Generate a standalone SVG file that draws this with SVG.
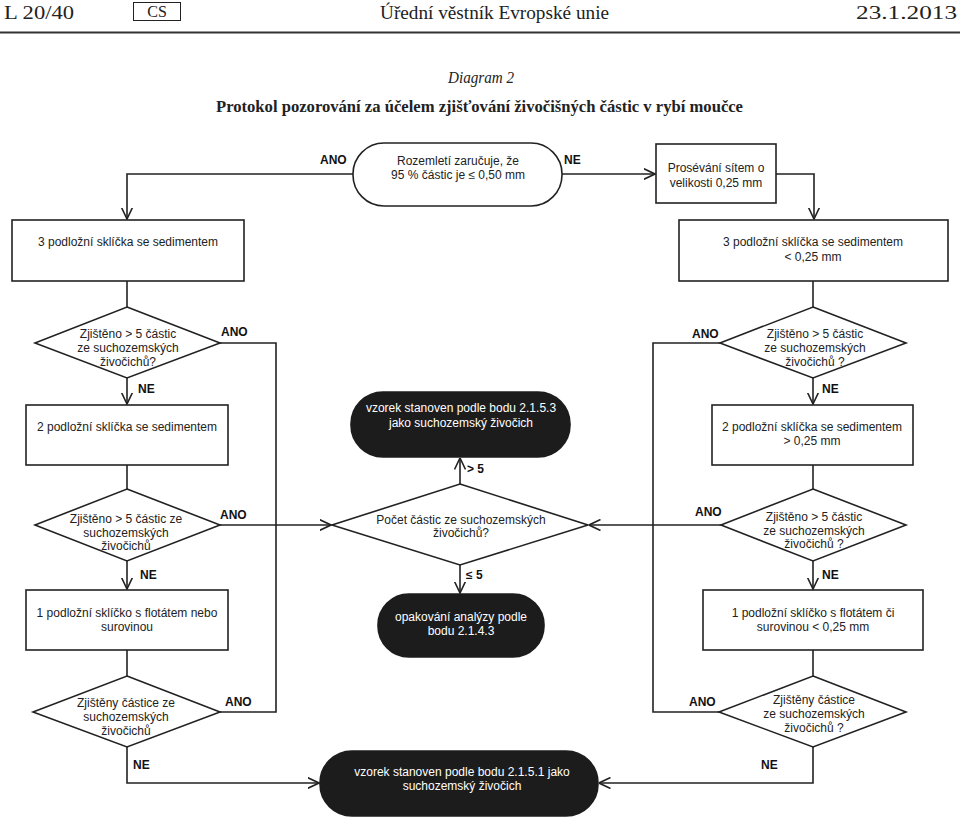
<svg xmlns="http://www.w3.org/2000/svg" width="960" height="817" viewBox="0 0 960 817">
<style>
.hd{font-family:"Liberation Serif","DejaVu Serif",serif;fill:#222}
.t{font-family:"Liberation Sans",Arial,sans-serif;font-size:12px;fill:#222;text-anchor:middle}
.w{font-family:"Liberation Sans",Arial,sans-serif;font-size:12px;fill:#fff;text-anchor:middle}
.l{font-family:"Liberation Sans",Arial,sans-serif;font-size:12px;font-weight:bold;fill:#111}
.s{fill:#fff;stroke:#222;stroke-width:1.6}
.b{fill:#1c1c1c;stroke:#1c1c1c;stroke-width:1.6}
.c{fill:none;stroke:#222;stroke-width:1.6}
</style>
<defs>
<marker id="arr" viewBox="0 0 12 12" refX="11.5" refY="6" markerWidth="12" markerHeight="12" markerUnits="userSpaceOnUse" orient="auto">
<path d="M0,0.5 L11.5,6 L0,11.5" fill="none" stroke="#222" stroke-width="1.6"/>
</marker>
</defs>
<rect width="960" height="817" fill="#fff"/>
<g id="header">
<text class="hd" x="4" y="19" font-size="18" textLength="70" lengthAdjust="spacingAndGlyphs">L 20/40</text>
<rect x="133.5" y="2.5" width="47" height="18" fill="none" stroke="#222" stroke-width="1"/>
<text class="hd" x="157" y="17" font-size="16" text-anchor="middle">CS</text>
<text class="hd" x="380" y="19" font-size="18" textLength="229" lengthAdjust="spacingAndGlyphs">Úřední věstník Evropské unie</text>
<text class="hd" x="856" y="19" font-size="18" textLength="101" lengthAdjust="spacingAndGlyphs">23.1.2013</text>
<rect x="0" y="31.5" width="960" height="2" fill="#333"/>
<text class="hd" x="448" y="83" font-size="16" font-style="italic" textLength="66" lengthAdjust="spacingAndGlyphs">Diagram 2</text>
<text class="hd" x="216" y="112" font-size="17" font-weight="bold" textLength="527" lengthAdjust="spacingAndGlyphs">Protokol pozorování za účelem zjišťování živočišných částic v rybí moučce</text>
</g>
<g id="connectors">
<path class="c" d="M353,174 H127 V219" marker-end="url(#arr)"/>
<path class="c" d="M562,174 H655" marker-end="url(#arr)"/>
<path class="c" d="M776,174 H814 V219" marker-end="url(#arr)"/>
<path class="c" d="M127,281 V307"/>
<path class="c" d="M127,378 V404" marker-end="url(#arr)"/>
<path class="c" d="M220,343 H276 V712 H220"/>
<path class="c" d="M220,525 H331" marker-end="url(#arr)"/>
<path class="c" d="M127,465 V489"/>
<path class="c" d="M127,561 V589" marker-end="url(#arr)"/>
<path class="c" d="M127,650 V676"/>
<path class="c" d="M127,747 V783 H319" marker-end="url(#arr)"/>
<path class="c" d="M460,484 V458" marker-end="url(#arr)"/>
<path class="c" d="M460,565 V593" marker-end="url(#arr)"/>
<path class="c" d="M813,281 V307"/>
<path class="c" d="M813,378 V404" marker-end="url(#arr)"/>
<path class="c" d="M720,343 H653 V712 H719"/>
<path class="c" d="M721,525 H589" marker-end="url(#arr)"/>
<path class="c" d="M813,465 V489"/>
<path class="c" d="M813,561 V589" marker-end="url(#arr)"/>
<path class="c" d="M813,650 V676"/>
<path class="c" d="M813,747 V783 H599" marker-end="url(#arr)"/>
</g>
<g id="labels">
<text class="l" x="320" y="164">ANO</text>
<text class="l" x="564" y="164">NE</text>
<text class="l" x="221" y="336">ANO</text>
<text class="l" x="138" y="393">NE</text>
<text class="l" x="692" y="338">ANO</text>
<text class="l" x="822" y="393">NE</text>
<text class="l" x="220" y="519">ANO</text>
<text class="l" x="140" y="579">NE</text>
<text class="l" x="695" y="516">ANO</text>
<text class="l" x="822" y="579">NE</text>
<text class="l" x="225" y="706">ANO</text>
<text class="l" x="133" y="769">NE</text>
<text class="l" x="689" y="706">ANO</text>
<text class="l" x="761" y="769">NE</text>
<text class="l" x="467" y="473">&gt; 5</text>
<text class="l" x="466" y="579">≤ 5</text>
</g>
<g id="start">
<rect class="s" x="353" y="143" width="209" height="63" rx="31" ry="31"/>
<text class="t" x="458" y="165">Rozemletí zaručuje, že</text>
<text class="t" x="458" y="179">95 % částic je ≤ 0,50 mm</text>
</g>
<g id="sieve">
<rect class="s" x="656" y="144" width="120" height="59"/>
<text class="t" x="716" y="172">Prosévání sítem o</text>
<text class="t" x="716" y="187">velikosti 0,25 mm</text>
</g>
<g id="boxL1">
<rect class="s" x="12" y="220" width="232" height="61"/>
<text class="t" x="128" y="246">3 podložní sklíčka se sedimentem</text>
</g>
<g id="boxR1">
<rect class="s" x="679" y="220" width="269" height="61"/>
<text class="t" x="813" y="246">3 podložní sklíčka se sedimentem</text>
<text class="t" x="813" y="261">&lt; 0,25 mm</text>
</g>
<g id="decL1">
<polygon class="s" points="127,307 220,343 127,378 35,343"/>
<text class="t" x="128" y="338">Zjištěno &gt; 5 částic</text>
<text class="t" x="128" y="352">ze suchozemských</text>
<text class="t" x="128" y="366">živočichů?</text>
</g>
<g id="decR1">
<polygon class="s" points="813,307 906,343 813,378 720,343"/>
<text class="t" x="815" y="338">Zjištěno  &gt; 5 částic</text>
<text class="t" x="815" y="352">ze suchozemských</text>
<text class="t" x="815" y="366">živočichů ?</text>
</g>
<g id="boxL2">
<rect class="s" x="26" y="405" width="202" height="60"/>
<text class="t" x="127" y="431">2 podložní sklíčka se sedimentem</text>
</g>
<g id="boxR2">
<rect class="s" x="712" y="405" width="201" height="60"/>
<text class="t" x="812" y="431">2 podložní sklíčka se sedimentem</text>
<text class="t" x="812" y="445">&gt; 0,25 mm</text>
</g>
<g id="endTop">
<rect class="b" x="351" y="392" width="219" height="65" rx="32" ry="32"/>
<text class="w" x="461" y="412">vzorek stanoven podle bodu 2.1.5.3</text>
<text class="w" x="461" y="427">jako suchozemský živočich</text>
</g>
<g id="decC">
<polygon class="s" points="460,484 588,525 460,565 332,525"/>
<text class="t" x="461" y="524">Počet částic ze suchozemských</text>
<text class="t" x="461" y="537">živočichů?</text>
</g>
<g id="decL2">
<polygon class="s" points="127,489 220,525 127,561 35,525"/>
<text class="t" x="126" y="523">Zjištěno &gt; 5 částic ze</text>
<text class="t" x="126" y="537">suchozemských</text>
<text class="t" x="126" y="550">živočichů</text>
</g>
<g id="decR2">
<polygon class="s" points="813,489 906,525 813,561 721,525"/>
<text class="t" x="814" y="521">Zjištěno &gt; 5 částic</text>
<text class="t" x="814" y="535">ze suchozemských</text>
<text class="t" x="814" y="548">živočichů ?</text>
</g>
<g id="boxL3">
<rect class="s" x="26" y="590" width="202" height="60"/>
<text class="t" x="127" y="617">1 podložní sklíčko s flotátem nebo</text>
<text class="t" x="127" y="631">surovinou</text>
</g>
<g id="endMid">
<rect class="b" x="378" y="594" width="166" height="63" rx="31" ry="31"/>
<text class="w" x="461" y="621">opakování analýzy podle</text>
<text class="w" x="461" y="635">bodu 2.1.4.3</text>
</g>
<g id="boxR3">
<rect class="s" x="703" y="590" width="220" height="60"/>
<text class="t" x="813" y="617">1 podložní sklíčko s flotátem či</text>
<text class="t" x="813" y="631">surovinou &lt; 0,25 mm</text>
</g>
<g id="decL3">
<polygon class="s" points="127,676 220,712 127,747 33,712"/>
<text class="t" x="126" y="707">Zjištěny částice ze</text>
<text class="t" x="126" y="721">suchozemských</text>
<text class="t" x="126" y="735">živočichů</text>
</g>
<g id="decR3">
<polygon class="s" points="813,676 906,712 813,747 719,712"/>
<text class="t" x="814" y="704">Zjištěny částice</text>
<text class="t" x="814" y="718">ze suchozemských</text>
<text class="t" x="814" y="732">živočichů ?</text>
</g>
<g id="endBottom">
<rect class="b" x="320" y="751" width="278" height="65" rx="32" ry="32"/>
<text class="w" x="462" y="776">vzorek stanoven podle bodu 2.1.5.1 jako</text>
<text class="w" x="462" y="790">suchozemský živočich</text>
</g>
</svg>
